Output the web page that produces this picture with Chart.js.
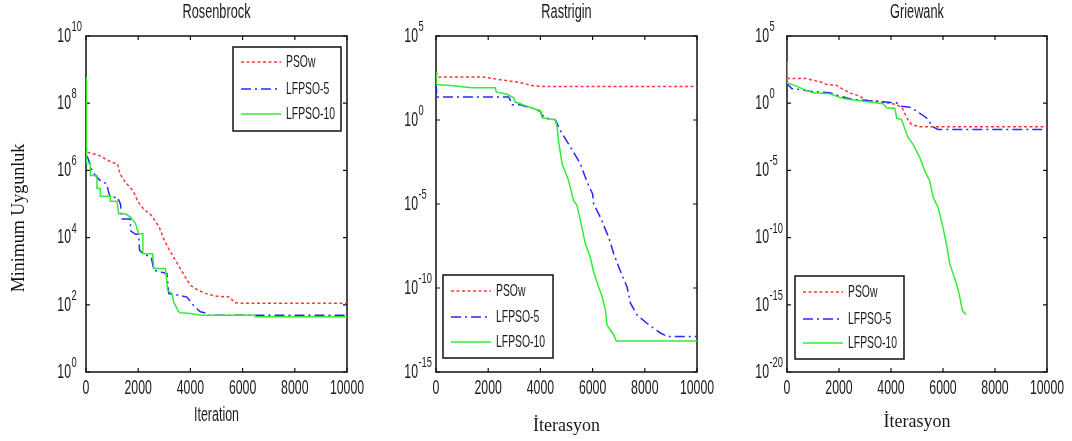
<!DOCTYPE html>
<html>
<head>
<meta charset="utf-8">
<script src="https://cdn.jsdelivr.net/npm/chart.js@4"></script>
<style>
  body { margin: 0; background: #fff; }
  #wrap { position: relative; width: 1072px; height: 441px; }
  canvas { position: absolute; left: 0; top: 0; }
</style>
</head>
<body>
<div id="wrap">
  <canvas id="c1" width="1072" height="441"></canvas>
  <canvas id="c2" width="1072" height="441"></canvas>
  <canvas id="c3" width="1072" height="441"></canvas>
</div>
<script>
// 数据
var seriesNames = ['PSOw', 'LFPSO-5', 'LFPSO-10'];
var xTicks = [0, 2000, 4000, 6000, 8000, 10000];

// Rosenbrock
var rosIterPSO = [0, 30, 500, 1000, 1200, 1300, 1500, 1800, 2000, 2200, 2500, 2800, 3000, 3200, 3500, 3800, 4000, 4300, 4600, 5000, 5500, 5700, 6000, 10000];
var rosPSO = [7.1e6, 3.5e6, 2.8e6, 1.7e6, 1.6e6, 8e5, 4.5e5, 2.5e5, 1.15e5, 7.2e4, 4.6e4, 2.1e4, 8.3e3, 4.2e3, 1.7e3, 680, 380, 270, 215, 180, 170, 115, 112, 112];
var rosIterLF5 = [0, 60, 250, 420, 550, 800, 850, 930, 1200, 1320, 1380, 1700, 1710, 1900, 2020, 2050, 2200, 2500, 2600, 2850, 3100, 3170, 3600, 3870, 4120, 4380, 4640, 4700, 10000];
var rosLF5 = [2.8e6, 2.5e6, 9e5, 6.3e5, 5e5, 4e5, 2.5e5, 1.6e5, 1.6e5, 1e5, 3.6e4, 3.6e4, 1.6e4, 1.25e4, 1.25e4, 4.2e3, 3.3e3, 2.6e3, 1.07e3, 950, 850, 215, 190, 170, 95, 62, 55, 49, 49];
var rosIterLF10 = [0, 0, 30, 170, 170, 420, 420, 550, 550, 930, 930, 1190, 1250, 1510, 1700, 1890, 1950, 2020, 2180, 2180, 2550, 2600, 3040, 3130, 3300, 3360, 3550, 3610, 4000, 4440, 6490, 6490, 10000];
var rosLF10 = [6e8, 3.2e6, 1.6e6, 1.6e6, 7e5, 7e5, 2.9e5, 2.9e5, 1.7e5, 1.7e5, 1.2e5, 1.2e5, 5.1e4, 5.1e4, 4.1e4, 2.7e4, 1.9e4, 1.3e4, 1.3e4, 3.3e3, 3.3e3, 1.2e3, 1.2e3, 270, 215, 120, 62, 58, 55, 49, 49, 44, 44];

// Rastrigin
var rasIterPSO = [0, 100, 1830, 2200, 2600, 3100, 3420, 3600, 4060, 10000];
var rasPSO = [725, 363, 363, 290, 230, 182, 145, 115, 100, 100];
var rasIterLF5 = [0, 40, 2780, 2850, 2910, 3230, 3740, 4000, 4060, 4320, 4570, 4760, 5150, 5530, 5790, 6000, 6040, 6300, 6620, 6810, 7000, 7320, 7450, 7700, 8080, 8340, 8600, 8850, 10000];
var rasLF5 = [160, 23.4, 23.4, 14.8, 8.1, 8.1, 4.7, 3.3, 1.9, 1.2, 1.05, 0.24, 0.025, 2.5e-3, 2e-4, 4e-5, 1e-5, 1.6e-6, 1e-7, 1.1e-8, 1.8e-9, 1.15e-10, 1.26e-11, 2.5e-12, 8e-13, 4e-13, 2.1e-13, 1.3e-13, 1.3e-13];
var rasIterLF10 = [0, 0, 550, 1380, 2270, 2310, 2720, 2980, 3040, 3230, 3740, 4000, 4060, 4250, 4570, 4640, 4700, 4830, 5080, 5270, 5400, 5530, 5720, 5910, 6040, 6230, 6360, 6490, 6550, 6810, 6910, 10000];
var rasLF10 = [725, 132, 115, 83, 83, 47, 34, 21, 11.7, 9.3, 4.7, 3.7, 1.4, 1.2, 1.05, 0.38, 0.05, 2.5e-3, 2.5e-4, 1.6e-5, 8.3e-6, 1.1e-6, 4.4e-8, 7e-9, 9e-10, 1.15e-10, 3.2e-11, 5e-12, 6.3e-13, 1.6e-13, 7e-14, 7e-14];

// Griewank
var griIterPSO = [0, 750, 1140, 1330, 1520, 1900, 2160, 2420, 2800, 3060, 3440, 3830, 4210, 4440, 4600, 4790, 5110, 10000];
var griPSO = [68, 68, 44, 36, 25, 22, 10.5, 5.9, 3.3, 1.6, 1.4, 1.07, 0.81, 0.41, 0.083, 0.026, 0.018, 0.018];
var griIterLF5 = [0, 30, 180, 500, 880, 1140, 1650, 2040, 2550, 3060, 3440, 4210, 4400, 4720, 4980, 5360, 5620, 5810, 10000];
var griLF5 = [40, 25, 12.3, 10.5, 7.9, 7.1, 5.9, 3.3, 1.9, 1.6, 1.4, 1.07, 0.6, 0.51, 0.26, 0.083, 0.017, 0.011, 0.011];
var griIterLF10 = [0, 0, 370, 750, 1010, 1650, 2160, 2930, 3700, 3830, 4150, 4220, 4400, 4660, 4850, 5110, 5300, 5490, 5620, 5810, 6000, 6130, 6260, 6390, 6520, 6620, 6750, 6880];
var griLF10 = [1300, 32, 18.6, 8.7, 5.9, 5, 2.2, 1.4, 0.91, 0.46, 0.41, 0.074, 0.063, 2.7e-3, 8.7e-4, 8.9e-5, 9.1e-6, 1.66e-6, 1e-7, 1.74e-8, 5.8e-10, 3.3e-11, 1.1e-12, 2e-13, 3.5e-14, 6.5e-15, 3.7e-16, 1.9e-16];

var SANS = '"Liberation Sans", Arial, sans-serif';
var SERIF = '"Liberation Serif", "DejaVu Serif", serif';
var styles = [
    { color: 'rgb(255, 55, 55)', dash: [3, 2.5] },
    { color: 'rgb(40, 40, 255)', dash: [10, 4, 2, 4] },
    { color: 'rgb(50, 238, 50)', dash: [] }
];

function pts(xs, ys) {
    return xs.map(function (x, i) { return { x: x, y: ys[i] }; });
}

// 横向压缩、纵向拉伸的文字 (模拟原图)
function txt(ctx, s, x, y, size, family, align, sx, sy) {
    ctx.save();
    ctx.translate(x, y);
    ctx.scale(sx, sy);
    ctx.font = size + 'px ' + family;
    ctx.textAlign = align;
    ctx.textBaseline = 'middle';
    ctx.fillStyle = '#1a1a1a';
    ctx.fillText(s, 0, 0);
    ctx.restore();
}

var panels = [
    {
        id: 'c1', title: 'Rosenbrock', area: [86, 36, 347, 372],
        xlabel: 'Iteration', xlabelSerif: false, xlabelY: 415,
        yExp: [0, 2, 4, 6, 8, 10], yOff: 15,
        legend: [233, 47, 341, 131, [62, 89, 114]],
        data: [pts(rosIterPSO, rosPSO), pts(rosIterLF5, rosLF5), pts(rosIterLF10, rosLF10)],
        yLabel: true
    },
    {
        id: 'c2', title: 'Rastrigin', area: [436, 36, 697, 372],
        xlabel: 'İterasyon', xlabelSerif: true, xlabelY: 426,
        yExp: [-15, -10, -5, 0, 5], yOff: 18,
        legend: [443, 275, 553, 358, [291, 317, 342]],
        data: [pts(rasIterPSO, rasPSO), pts(rasIterLF5, rasLF5), pts(rasIterLF10, rasLF10)]
    },
    {
        id: 'c3', title: 'Griewank', area: [787, 36, 1047, 372],
        xlabel: 'İterasyon', xlabelSerif: true, xlabelY: 422,
        yExp: [-20, -15, -10, -5, 0, 5], yOff: 18,
        legend: [795, 276, 904, 359, [292, 319, 343]],
        data: [pts(griIterPSO, griPSO), pts(griIterLF5, griLF5), pts(griIterLF10, griLF10)]
    }
];

panels.forEach(function (p) {
    var a = p.area;
    var datasets = p.data.map(function (d, i) {
        return {
            label: seriesNames[i],
            data: d,
            borderColor: styles[i].color,
            borderDash: styles[i].dash,
            borderWidth: 1.5,
            pointRadius: 0,
            tension: 0,
            fill: false,
            order: 2 - i
        };
    });

    var axesPlugin = {
        id: 'axes' + p.id,
        beforeDatasetsDraw: function (chart) {
            var ctx = chart.ctx, ca = chart.chartArea;
            var xs = chart.scales.x, ys = chart.scales.y;
            ctx.save();
            ctx.strokeStyle = '#111';
            ctx.lineWidth = 1.5;
            ctx.strokeRect(ca.left, ca.top, ca.right - ca.left, ca.bottom - ca.top);
            ctx.lineWidth = 1.2;
            ctx.beginPath();
            xTicks.forEach(function (t) {
                var px = xs.getPixelForValue(t);
                ctx.moveTo(px, ca.bottom); ctx.lineTo(px, ca.bottom - 4);
                ctx.moveTo(px, ca.top); ctx.lineTo(px, ca.top + 4);
            });
            p.yExp.forEach(function (e) {
                var py = ys.getPixelForValue(Math.pow(10, e));
                ctx.moveTo(ca.left, py); ctx.lineTo(ca.left + 4, py);
                ctx.moveTo(ca.right, py); ctx.lineTo(ca.right - 4, py);
            });
            ctx.stroke();
            ctx.restore();

            // 刻度标签
            xTicks.forEach(function (t) {
                txt(ctx, String(t), xs.getPixelForValue(t), 388, 15, SANS, 'center', 0.82, 1.4);
            });
            p.yExp.forEach(function (e) {
                var py = ys.getPixelForValue(Math.pow(10, e));
                var bx = ca.left - p.yOff;
                txt(ctx, '10', bx, py, 15, SANS, 'right', 0.82, 1.4);
                txt(ctx, String(e), bx + 0.5, py - 9, 11, SANS, 'left', 0.85, 1.3);
            });

            // 标题与坐标轴标签
            var cx = (ca.left + ca.right) / 2;
            txt(ctx, p.title, cx, 13, 15, SANS, 'center', 0.85, 1.3);
            if (p.xlabelSerif) {
                txt(ctx, p.xlabel, cx, p.xlabelY, 18, SERIF, 'center', 1, 1);
            } else {
                txt(ctx, p.xlabel, cx, p.xlabelY, 15, SANS, 'center', 0.83, 1.35);
            }
            if (p.yLabel) {
                ctx.save();
                ctx.translate(19, 218);
                ctx.rotate(-Math.PI / 2);
                ctx.font = '18px ' + SERIF;
                ctx.textAlign = 'center';
                ctx.textBaseline = 'middle';
                ctx.fillStyle = '#111';
                ctx.fillText('Minimum Uygunluk', 0, 0);
                ctx.restore();
            }
        },
        afterDatasetsDraw: function (chart) {
            // 图例
            var ctx = chart.ctx, L = p.legend;
            ctx.save();
            ctx.fillStyle = '#fff';
            ctx.fillRect(L[0], L[1], L[2] - L[0], L[3] - L[1]);
            ctx.strokeStyle = '#111';
            ctx.lineWidth = 1.5;
            ctx.strokeRect(L[0], L[1], L[2] - L[0], L[3] - L[1]);
            L[4].forEach(function (ry, i) {
                ctx.strokeStyle = styles[i].color;
                ctx.setLineDash(styles[i].dash);
                ctx.lineWidth = 1.5;
                ctx.beginPath();
                ctx.moveTo(L[0] + 8, ry);
                ctx.lineTo(L[0] + 48, ry);
                ctx.stroke();
                ctx.setLineDash([]);
                txt(ctx, seriesNames[i], L[0] + 53, ry, 13, SANS, 'left', 0.8, 1.28);
            });
            ctx.restore();
        }
    };

    new Chart(document.getElementById(p.id).getContext('2d'), {
        type: 'line',
        data: { datasets: datasets },
        options: {
            responsive: false,
            animation: false,
            layout: { padding: { left: a[0], top: a[1], right: 1072 - a[2], bottom: 441 - a[3] } },
            plugins: { legend: { display: false }, tooltip: { enabled: false } },
            scales: {
                x: { type: 'linear', min: 0, max: 10000, display: false },
                y: {
                    type: 'logarithmic',
                    min: Math.pow(10, p.yExp[0]),
                    max: Math.pow(10, p.yExp[p.yExp.length - 1]),
                    display: false
                }
            }
        },
        plugins: [axesPlugin]
    });
});
</script>
</body>
</html>
